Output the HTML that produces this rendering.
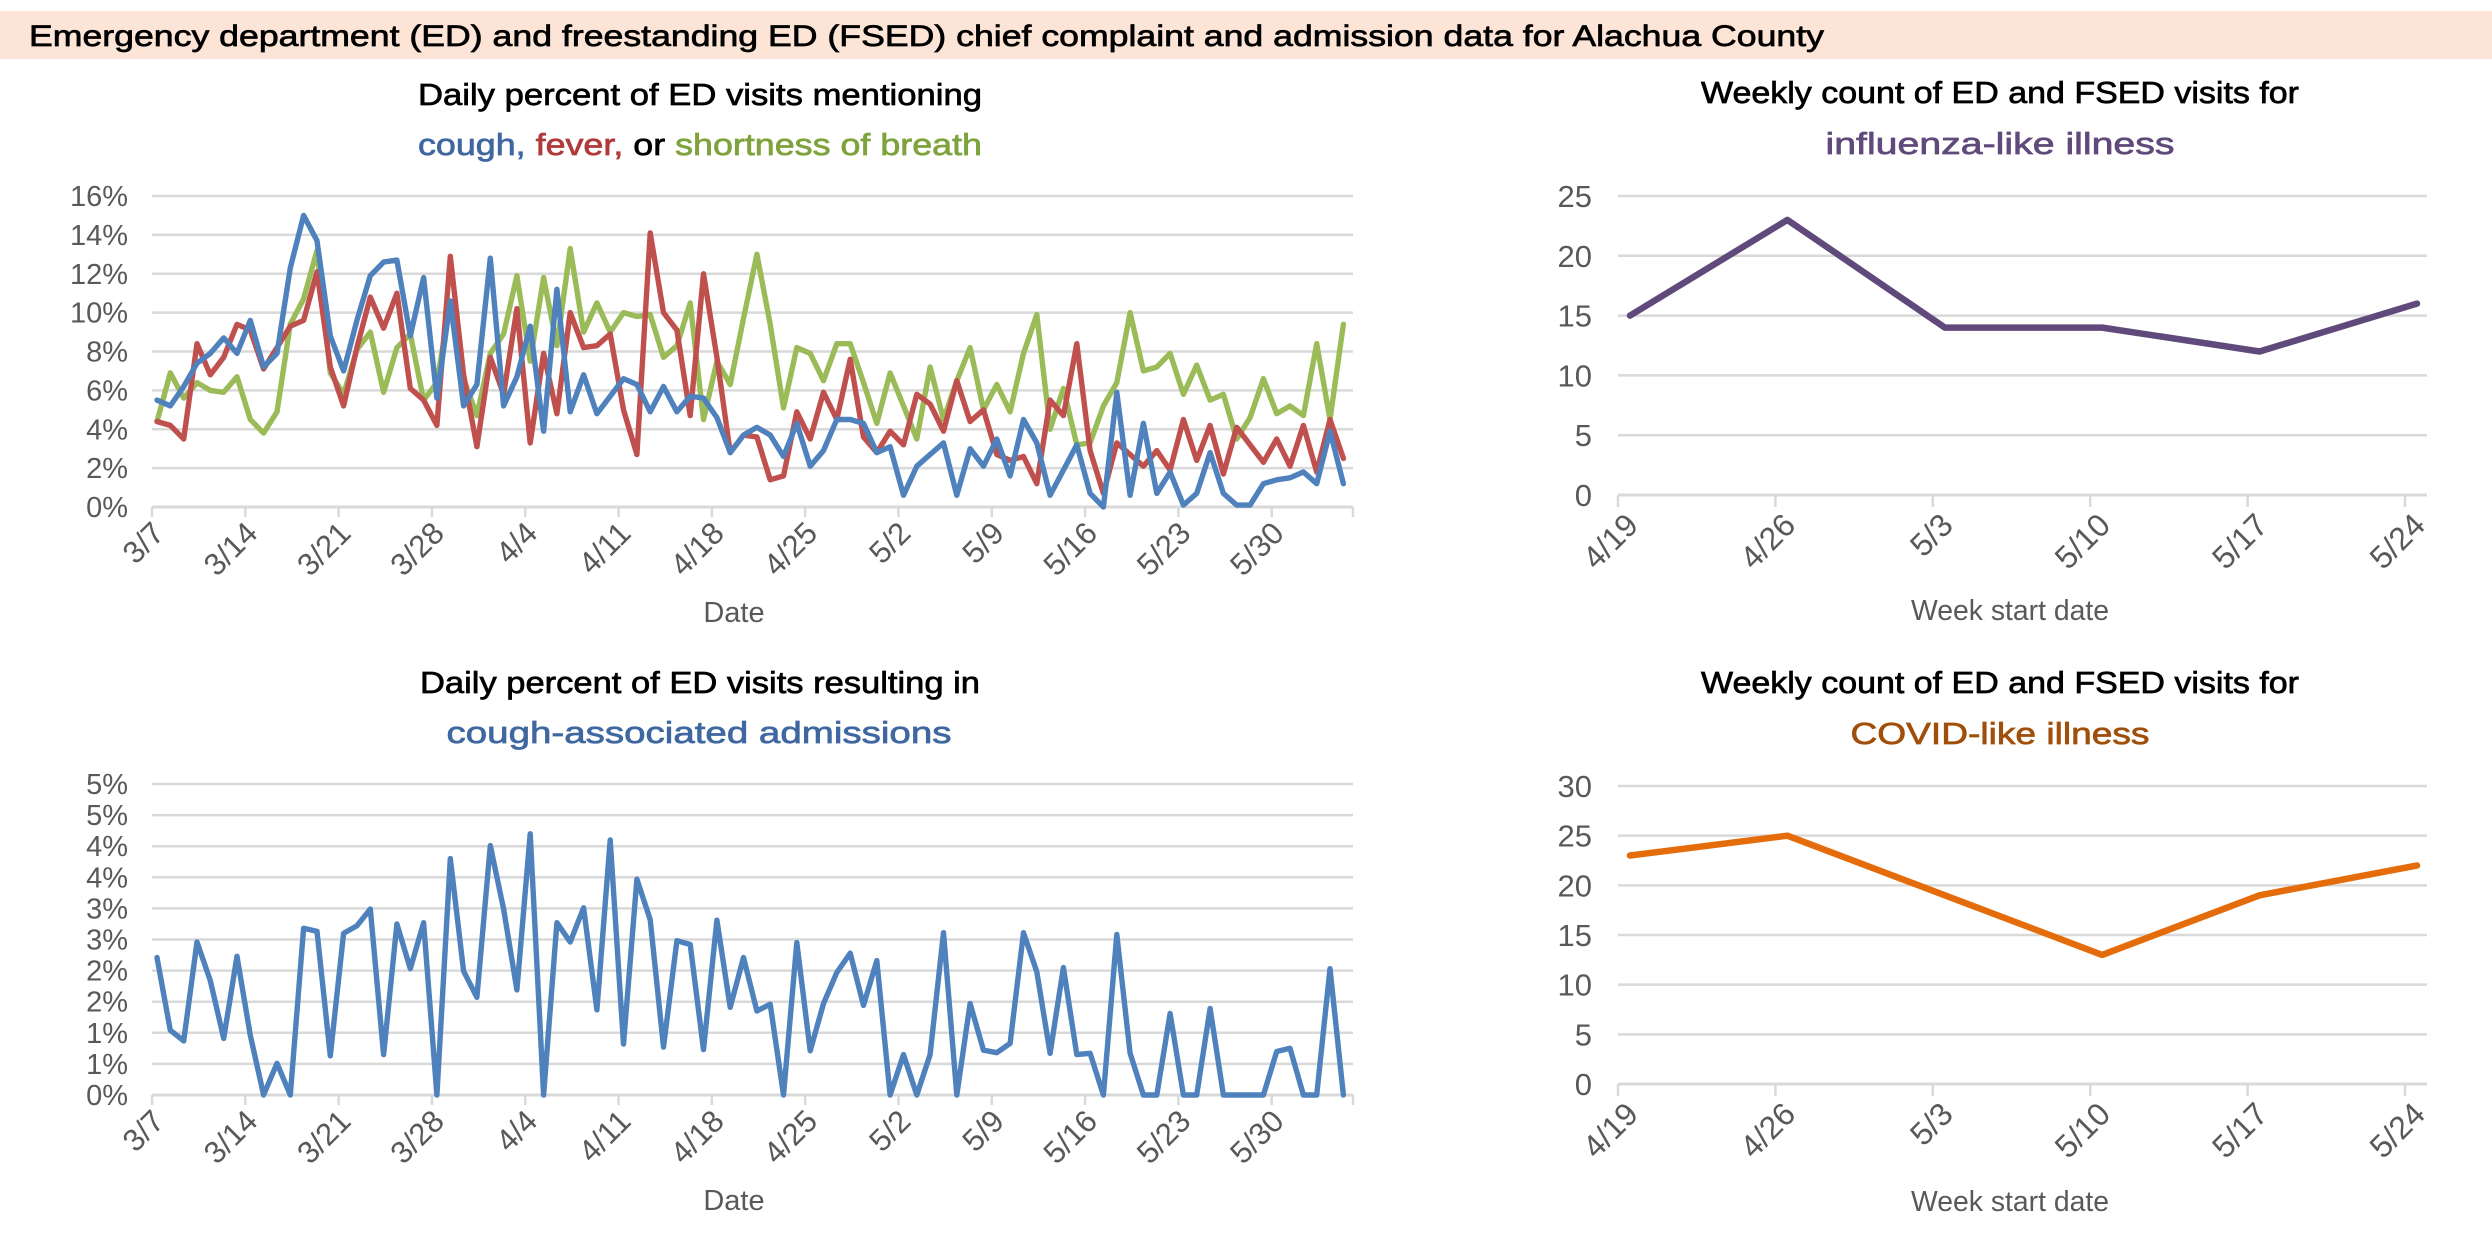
<!DOCTYPE html>
<html>
<head>
<meta charset="utf-8">
<style>
  html,body{margin:0;padding:0;background:#fff;}
  svg{display:block;font-family:"Liberation Sans",Arial,sans-serif;}
  .ttl{stroke:currentColor;stroke-width:0.7px;}
</style>
</head>
<body>
<svg id="root" width="2492" height="1254" viewBox="0 0 2492 1254" xmlns="http://www.w3.org/2000/svg">
  <rect x="0" y="0" width="2492" height="1254" fill="#ffffff"/>
  <rect x="0" y="11" width="2492" height="48" fill="#fce4d6"/>
  <text class="ttl" x="29" y="46" font-size="30" fill="#000" color="#000" textLength="1795" lengthAdjust="spacingAndGlyphs">Emergency department (ED) and freestanding ED (FSED) chief complaint and admission data for Alachua County</text>

  <text class="ttl" x="700" y="105" font-size="31" text-anchor="middle" color="#000" textLength="564" lengthAdjust="spacingAndGlyphs">Daily percent of ED visits mentioning</text>
  <text x="700" y="155" font-size="31" text-anchor="middle" textLength="564" lengthAdjust="spacingAndGlyphs"><tspan class="ttl" fill="#3f67a0" color="#3f67a0">cough,</tspan><tspan fill="#000"> </tspan><tspan class="ttl" fill="#b03a3a" color="#b03a3a">fever,</tspan><tspan class="ttl" fill="#000" color="#000"> or </tspan><tspan class="ttl" fill="#7fa33c" color="#7fa33c">shortness of breath</tspan></text>

  <text class="ttl" x="700" y="693" font-size="31" text-anchor="middle" color="#000" textLength="560" lengthAdjust="spacingAndGlyphs">Daily percent of ED visits resulting in</text>
  <text class="ttl" x="699" y="743" font-size="31" text-anchor="middle" fill="#3f67a0" color="#3f67a0" textLength="505" lengthAdjust="spacingAndGlyphs">cough-associated admissions</text>

  <text class="ttl" x="2000" y="103" font-size="31" text-anchor="middle" color="#000" textLength="598" lengthAdjust="spacingAndGlyphs">Weekly count of ED and FSED visits for</text>
  <text class="ttl" x="2000" y="154" font-size="31" text-anchor="middle" fill="#604a7b" color="#604a7b" textLength="349" lengthAdjust="spacingAndGlyphs">influenza-like illness</text>

  <text class="ttl" x="2000" y="693" font-size="31" text-anchor="middle" color="#000" textLength="598" lengthAdjust="spacingAndGlyphs">Weekly count of ED and FSED visits for</text>
  <text class="ttl" x="2000" y="744" font-size="31" text-anchor="middle" fill="#a04f0a" color="#a04f0a" textLength="299" lengthAdjust="spacingAndGlyphs">COVID-like illness</text>

  <g id="g-symptoms"></g>
  <g id="g-admissions"></g>
  <g id="g-ili"></g>
  <g id="g-cli"></g>
</svg>

<script>
const dailyDateLabels = ["3/7","3/14","3/21","3/28","4/4","4/11","4/18","4/25","5/2","5/9","5/16","5/23","5/30"];
const coughPct = [5.5,5.2,6.2,7.4,7.9,8.7,7.9,9.6,7.2,7.9,12.3,15.0,13.7,8.8,7.0,9.6,11.9,12.6,12.7,8.8,11.8,5.6,10.6,5.2,6.3,12.8,5.2,6.7,9.3,3.9,11.2,4.9,6.8,4.8,5.7,6.6,6.3,4.9,6.2,4.9,5.7,5.6,4.6,2.8,3.7,4.1,3.7,2.6,4.3,2.1,2.9,4.5,4.5,4.3,2.8,3.1,0.6,2.1,2.7,3.3,0.6,3.0,2.1,3.5,1.6,4.5,3.3,0.6,1.9,3.2,0.7,0.0,5.9,0.6,4.3,0.7,1.8,0.1,0.7,2.8,0.7,0.1,0.1,1.2,1.4,1.5,1.8,1.2,3.9,1.2];
const feverPct = [4.4,4.2,3.5,8.4,6.8,7.7,9.4,9.1,7.1,8.2,9.3,9.6,12.1,7.2,5.2,8.2,10.8,9.2,11.0,6.1,5.5,4.2,12.9,6.8,3.1,7.7,5.8,10.2,3.3,7.9,4.8,10.0,8.2,8.3,8.9,5.0,2.7,14.1,10.0,9.1,4.7,12.0,7.7,2.8,3.7,3.6,1.4,1.6,4.9,3.5,5.9,4.5,7.6,3.6,2.8,3.9,3.2,5.8,5.3,3.9,6.5,4.4,5.0,2.7,2.4,2.6,1.2,5.5,4.7,8.4,2.9,0.7,3.3,2.7,2.1,2.9,1.9,4.5,2.4,4.2,1.7,4.1,3.2,2.3,3.5,2.1,4.2,1.8,4.5,2.5];
const sobPct = [4.4,6.9,5.6,6.4,6.0,5.9,6.7,4.5,3.8,4.9,9.4,10.7,13.2,6.9,5.8,8.1,9.0,5.9,8.2,8.9,5.5,6.4,10.6,6.6,4.7,7.9,8.9,11.9,7.5,11.8,8.3,13.3,9.0,10.5,9.0,10.0,9.8,9.9,7.7,8.3,10.5,4.5,7.5,6.3,9.7,13.0,9.4,5.1,8.2,7.9,6.5,8.4,8.4,6.4,4.3,6.9,5.2,3.5,7.2,4.5,6.5,8.2,5.0,6.3,4.9,7.9,9.9,4.0,6.1,3.2,3.3,5.2,6.4,10.0,7.0,7.2,7.9,5.8,7.3,5.5,5.8,3.5,4.6,6.6,4.8,5.2,4.7,8.4,4.5,9.4];
const symptomTicks = [0,2,4,6,8,10,12,14,16];

const admitPct = [2.21,1.04,0.87,2.46,1.84,0.91,2.23,0.96,0,0.51,0,2.68,2.63,0.63,2.6,2.72,2.99,0.65,2.75,2.03,2.77,0,3.8,1.99,1.57,4.01,2.99,1.69,4.2,0,2.77,2.46,3.01,1.37,4.1,0.82,3.47,2.82,0.77,2.48,2.42,0.73,2.81,1.41,2.21,1.35,1.46,0,2.45,0.71,1.47,1.97,2.28,1.44,2.16,0,0.65,0,0.65,2.61,0,1.47,0.72,0.68,0.83,2.61,1.98,0.67,2.05,0.65,0.67,0,2.58,0.67,0,0,1.31,0,0,1.39,0,0,0,0,0.7,0.75,0,0,2.03,0];
const admitTicks = [0,0.5,1,1.5,2,2.5,3,3.5,4,4.5,5];
const admitTickLabels = ["0%","1%","1%","2%","2%","3%","3%","4%","4%","5%","5%"];

const weekLabels = ["4/19","4/26","5/3","5/10","5/17","5/24"];
const iliCounts = [15,23,14,14,12,16];
const iliTicks = [0,5,10,15,20,25];
const cliCounts = [23,25,19,13,19,22];
const cliTicks = [0,5,10,15,20,25,30];

const NS = "http://www.w3.org/2000/svg";
function mk(tag, attrs, parent){
  const e = document.createElementNS(NS, tag);
  for (const k in attrs) e.setAttribute(k, attrs[k]);
  parent.appendChild(e);
  return e;
}
const GRID = "#d9d9d9", LAB = "#595959";

function dailyChart(gid, cfg){
  const g = document.getElementById(gid);
  const x0 = 152, x1 = 1353;
  const xScale = i => 157 + 13.33 * i;
  const yScale = v => cfg.yBottom - (v - cfg.yMin) / (cfg.yMax - cfg.yMin) * (cfg.yBottom - cfg.yTop);
  cfg.ticks.forEach((t, k) => {
    const y = yScale(t);
    const ln = mk("line", {x1:x0, x2:x1, y1:y, y2:y, stroke:GRID, "stroke-width":k===0?3:2.5}, g);
    
    
    const tx = mk("text", {x:128, y:y+10, "font-size":29, "text-anchor":"end", fill:LAB}, g);
    tx.textContent = cfg.tickLabels[k];
    
    
  });
  const yb = yScale(cfg.yMin);
  dailyDateLabels.forEach((lab, k) => {
    const tx0 = xScale(7*k) - 5;
    const tk = mk("line", {x1:tx0, x2:tx0, y1:yb, y2:yb+10, stroke:GRID, "stroke-width":2.5}, g);
    
    
    const ax = tx0 + 14, ay = yb + 28;
    const t = mk("text", {x:ax, y:ay, "font-size":31, "text-anchor":"end", fill:LAB, transform:`rotate(-45 ${ax} ${ay})`}, g);
    t.textContent = lab;
    
    
  });
  const tl = mk("line", {x1:x1, x2:x1, y1:yb, y2:yb+10, stroke:GRID, "stroke-width":2.5}, g);
  
  
  const at = mk("text", {x:734, y:cfg.titleY, "font-size":29, "text-anchor":"middle", fill:LAB}, g);
  at.textContent = "Date";
  
  
  cfg.series.forEach(s => {
    const d = s.values.map((v, i) => (i ? "L" : "M") + xScale(i).toFixed(1) + " " + yScale(v).toFixed(1)).join(" ");
    const p = mk("path", {d:d, fill:"none", stroke:s.color, "stroke-width":5.4, "stroke-linejoin":"round", "stroke-linecap":"round"}, g);
    
    
  });
}

dailyChart("g-symptoms", {
  yTop:196, yBottom:507, yMin:0, yMax:16, ticks:symptomTicks,
  tickLabels:symptomTicks.map(t => t + "%"), titleY:622,
  series:[
    {name:"sob-line", values:sobPct, color:"#9bbb59"},
    {name:"fever-line", values:feverPct, color:"#c0504d"},
    {name:"cough-line", values:coughPct, color:"#4f81bd"}
  ]
});
dailyChart("g-admissions", {
  yTop:784, yBottom:1095, yMin:0, yMax:5, ticks:admitTicks,
  tickLabels:admitTickLabels, titleY:1210,
  series:[{name:"cough-admissions-line", values:admitPct, color:"#4f81bd"}]
});

function weeklyChart(gid, cfg){
  const g = document.getElementById(gid);
  const x0 = 1618, x1 = 2427, step = 157.4;
  const xTick = i => x0 + step * i;
  const xScale = i => xTick(i) + 12;
  const yScale = v => cfg.yBottom - (v - cfg.yMin) / (cfg.yMax - cfg.yMin) * (cfg.yBottom - cfg.yTop);
  cfg.ticks.forEach((t, k) => {
    const y = yScale(t);
    const ln = mk("line", {x1:x0, x2:x1, y1:y, y2:y, stroke:GRID, "stroke-width":k===0?3:2.5}, g);
    
    
    const tx = mk("text", {x:1592, y:y+11, "font-size":31, "text-anchor":"end", fill:LAB}, g);
    tx.textContent = String(t);
    
    
  });
  const yb = yScale(cfg.yMin);
  weekLabels.forEach((lab, i) => {
    const tx0 = xTick(i);
    const tk = mk("line", {x1:tx0, x2:tx0, y1:yb, y2:yb+12, stroke:GRID, "stroke-width":2.5}, g);
    
    
    const ax = tx0 + 22, ay = yb + 32;
    const t = mk("text", {x:ax, y:ay, "font-size":32, "text-anchor":"end", fill:LAB, transform:`rotate(-45 ${ax} ${ay})`}, g);
    t.textContent = lab;
    
    
  });
  const at = mk("text", {x:2010, y:cfg.titleY, "font-size":29, "text-anchor":"middle", fill:LAB, textLength:198, lengthAdjust:"spacingAndGlyphs"}, g);
  at.textContent = "Week start date";
  
  
  const d = cfg.values.map((v, i) => (i ? "L" : "M") + xScale(i).toFixed(1) + " " + yScale(v).toFixed(1)).join(" ");
  const p = mk("path", {d:d, fill:"none", stroke:cfg.color, "stroke-width":6.5, "stroke-linejoin":"round", "stroke-linecap":"round"}, g);
  
  
}

weeklyChart("g-ili", {yTop:196, yBottom:495, yMin:0, yMax:25, ticks:iliTicks, values:iliCounts, color:"#604a7b", name:"ili-line", titleY:620});
weeklyChart("g-cli", {yTop:786, yBottom:1084, yMin:0, yMax:30, ticks:cliTicks, values:cliCounts, color:"#e46c0a", name:"cli-line", titleY:1211});
</script>
</body>
</html>
